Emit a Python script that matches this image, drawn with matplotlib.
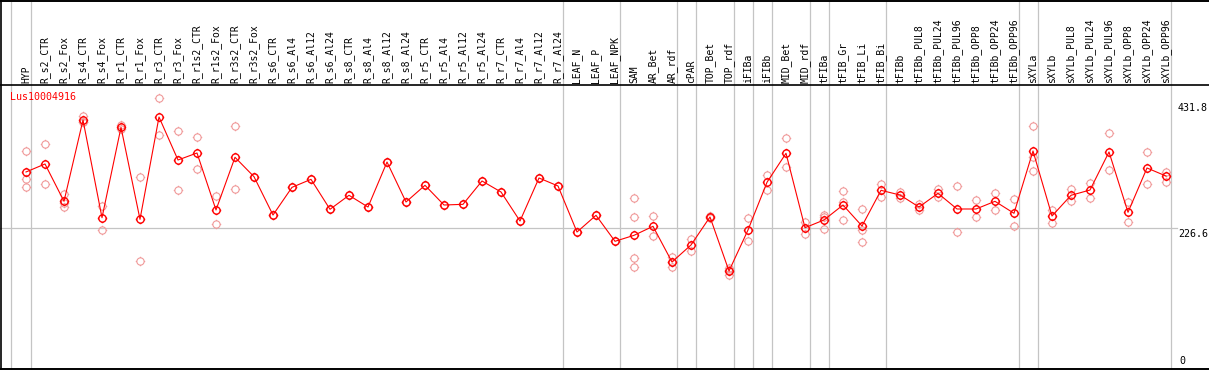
import matplotlib
matplotlib.use("Agg")
import matplotlib.pyplot as plt
from matplotlib.path import Path
from matplotlib.transforms import blended_transform_factory
import numpy as np

categories = [
    "HYP", "R_s2_CTR", "R_s2_Fox", "R_s4_CTR", "R_s4_Fox", "R_r1_CTR", "R_r1_Fox",
    "R_r3_CTR", "R_r3_Fox", "R_r1s2_CTR", "R_r1s2_Fox", "R_r3s2_CTR", "R_r3s2_Fox",
    "R_s6_CTR", "R_s6_Al4", "R_s6_Al12", "R_s6_Al24", "R_s8_CTR", "R_s8_Al4",
    "R_s8_Al12", "R_s8_Al24", "R_r5_CTR", "R_r5_Al4", "R_r5_Al12", "R_r5_Al24",
    "R_r7_CTR", "R_r7_Al4", "R_r7_Al12", "R_r7_Al24", "LEAF_N", "LEAF_P", "LEAF_NPK",
    "SAM", "AR_Bet", "AR_rdf", "cPAR", "TOP_Bet", "TOP_rdf", "iFIBa", "iFIBb",
    "MID_Bet", "MID_rdf", "tFIBa", "tFIB_Gr", "tFIB_Li", "tFIB_Bi", "tFIBb",
    "tFIBb_PUL8", "tFIBb_PUL24", "tFIBb_PUL96", "tFIBb_OPP8", "tFIBb_OPP24",
    "tFIBb_OPP96", "sXYLa", "sXYLb", "sXYLb_PUL8", "sXYLb_PUL24", "sXYLb_PUL96",
    "sXYLb_OPP8", "sXYLb_OPP24", "sXYLb_OPP96",
]

means = [
    317.8, 330.8, 270.0, 402.4, 243.3, 390.5, 240.7, 407.3, 337.3, 348.7, 255.9,
    341.7, 310.1, 247.7, 292.8, 305.8, 257.0, 279.8, 260.7, 334.0, 268.9, 296.1,
    264.0, 265.1, 303.1, 285.2, 237.9, 308.0, 295.0, 220.0, 247.2, 204.9, 214.6,
    229.3, 171.2, 198.9, 244.5, 156.5, 223.3, 301.0, 348.2, 227.0, 239.6, 264.0,
    229.8, 287.9, 280.3, 260.7, 283.0, 257.5, 257.5, 270.0, 250.5, 352.0, 246.1,
    279.8, 288.4, 350.4, 252.1, 324.3, 311.2,
]

replicates = [
    [351.5, 306.8, 293.8], [362.9, 297.7], [281.4, 261.2, 268.0], [409.0, 399.7, 398.5],
    [262.4, 222.8], [394.0, 387.0], [309.0, 172.3], [437.8, 377.5], [384.0, 288.0],
    [374.3, 322.1], [278.2, 232.6], [392.2, 289.6], [310.1], [247.7], [292.8], [305.8],
    [257.0], [279.8], [260.7], [334.0], [268.9], [296.1], [264.0], [265.1], [303.1],
    [285.2], [237.9], [308.0], [295.0], [220.0], [247.2], [204.9],
    [275.4, 244.5, 177.2, 162.5], [246.1, 213.5], [178.8, 162.5, 171.0], [208.1, 189.1],
    [246.0, 243.0], [160.9, 150.0, 158.0], [242.8, 204.9], [312.9, 289.0],
    [372.6, 325.4], [236.8, 217.3], [248.2, 245.0, 224.4], [286.3, 268.9, 239.6],
    [257.0, 223.8, 204.2], [298.7, 276.5], [284.6, 275.9], [265.1, 255.9],
    [290.6, 276.5], [294.5, 219.5], [272.2, 244.0], [283.6, 256.4], [273.3, 229.8],
    [392.2, 341.7, 319.4], [255.9, 235.2], [289.6, 270.0], [299.8, 274.9],
    [380.8, 320.5], [268.9, 235.8], [349.8, 297.7], [318.2, 302.0],
]

# group separators drawn after these category indices
separators_after = [0, 28, 31, 34, 35, 37, 38, 39, 41, 42, 45, 52, 53, 60]
ref_values = [431.8, 226.6]
gene_id = "Lus10004916"

# ---- figure ----
W, H = 1209, 370
fig = plt.figure(figsize=(W / 100, H / 100), dpi=100)
ax = fig.add_axes([0, 0, 1, 1])

# pixel geometry
x0_px, dx_px = 26.0, 19.0
zero_px, k = 367.1, 0.614
def vx(px):
    return (px - x0_px) / dx_px
def vy(py):
    return (zero_px - py) / k

ax.set_xlim(vx(0), vx(W))
ax.set_ylim(vy(H), vy(0))
ax.axis("off")

# marker: circle with four small ticks
circ = Path.circle((0, 0), 1.0)
t = 1.3
ticks = Path([(1, 0), (t, 0), (-1, 0), (-t, 0), (0, 1), (0, t), (0, -1), (0, -t)],
             [Path.MOVETO, Path.LINETO] * 4)
mk = Path.make_compound_path(circ, ticks)

x = np.arange(len(categories))
red = "#ff0000"
pink = "#f09a9a"
grey = "#c4c4c4"

# separators
ax.axvline(vx(11), color=grey, lw=0.9, zorder=1)
for i in separators_after:
    ax.axvline(i + 5 / 19, color=grey, lw=0.9, zorder=1)

# reference horizontal line
ax.plot([vx(0), vx(1177)], [ref_values[1], ref_values[1]], color=grey, lw=0.9, zorder=1)

# replicates
for i, reps in enumerate(replicates):
    ax.plot([i] * len(reps), reps, linestyle="none", marker=mk, ms=6.8,
            mfc="none", mec=pink, mew=0.8, zorder=2)

# mean line
ax.plot(x, means, color=red, lw=0.8, zorder=3)
ax.plot(x, means, linestyle="none", marker=mk, ms=6.8, mfc="none", mec=red,
        mew=1.0, zorder=4)

mono = "DejaVu Sans Mono"
# header labels
for i, c in enumerate(categories):
    ax.text(i, vy(83), c, rotation=90, ha="center", va="bottom", fontsize=7,
            family=mono, color="black")

# gene label
ax.text(vx(10), vy(97), gene_id, ha="left", va="center", fontsize=7.2,
        family=mono, color=red)

# right axis labels
for v in ref_values:
    ax.text(vx(1178), v - 1.5, f"{v}", ha="left", va="top", fontsize=7.2,
            family=mono, color="black", clip_on=False)
ax.text(vx(1179), vy(366), "0", ha="left", va="bottom", fontsize=7.2,
        family=mono, color="black")

# borders
ax.plot([vx(0), vx(W)], [vy(85), vy(85)], color="black", lw=1.2, zorder=5)
ax.plot([vx(0), vx(W)], [vy(0.5), vy(0.5)], color="black", lw=1.4, zorder=5)
ax.plot([vx(0), vx(W)], [vy(369.3), vy(369.3)], color="black", lw=1.4, zorder=5)
ax.plot([vx(1.2), vx(1.2)], [vy(0), vy(H)], color="black", lw=1.2, zorder=5)

fig.savefig("out.png", dpi=100)
